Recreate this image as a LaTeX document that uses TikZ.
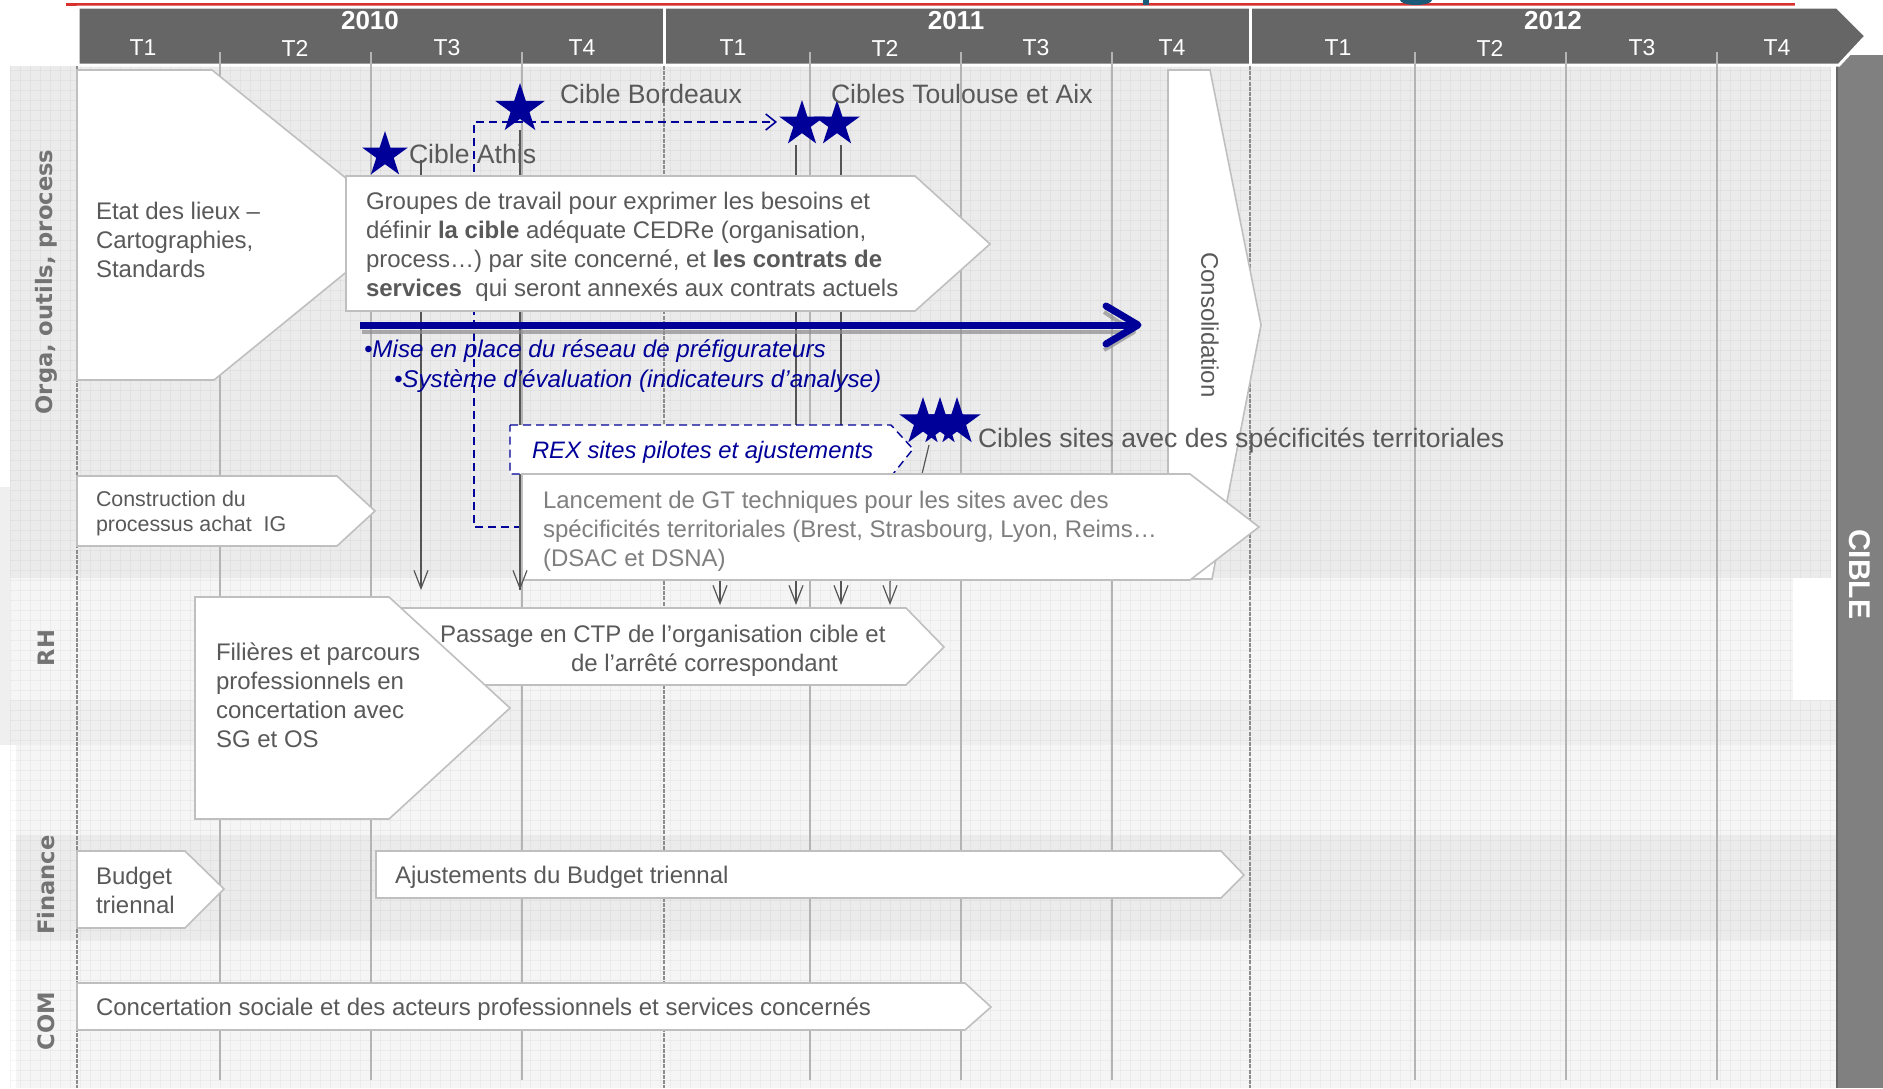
\documentclass[tikz,border=0pt]{standalone}
\usepackage{fontspec}
\setmainfont{Liberation Sans}
\newfontfamily\lanefont{DejaVu Sans}
\usetikzlibrary{shapes.geometric,arrows.meta}

\definecolor{navy}{HTML}{000099}
\definecolor{hdrgray}{HTML}{666666}
\definecolor{ciblegray}{HTML}{808080}
\definecolor{txtgray}{HTML}{595959}
\definecolor{lighttxt}{HTML}{7F7F7F}
\definecolor{lanegray}{HTML}{737373}
\definecolor{boxline}{HTML}{BFBFBF}
\definecolor{qgray}{HTML}{B4B4B4}
\definecolor{ygray}{HTML}{8C8C8C}
\definecolor{dropgray}{HTML}{555555}
\definecolor{bandA}{HTML}{EBEBEB}
\definecolor{bandB}{HTML}{F5F5F5}
\definecolor{bandC}{HTML}{EFEFEF}
\definecolor{titlered}{HTML}{D9312E}
\definecolor{titleteal}{HTML}{1A5A78}

\tikzset{
  box/.style={draw=boxline, line width=0.8pt, fill=white, line join=miter},
  rexbox/.style={draw=navy, line width=0.7pt, dash pattern=on 4pt off 2.5pt, fill=white},
  txt/.style={inner sep=0pt, outer sep=0pt, text=txtgray, align=left,
              font=\fontsize{12pt}{14.5pt}\selectfont},
  smalltxt/.style={txt, font=\fontsize{10.7pt}{12.5pt}\selectfont},
  startxt/.style={inner sep=0pt, outer sep=0pt, text=txtgray,
              font=\fontsize{13.3pt}{16pt}\selectfont},
  bluetxt/.style={inner sep=0pt, outer sep=0pt, text=navy,
              font=\fontsize{12.1pt}{14.5pt}\selectfont\itshape},
  lanetxt/.style={rotate=90, inner sep=0pt, text=lanegray,
              font=\lanefont\bfseries\fontsize{11.3pt}{13pt}\selectfont},
  hdrtxt/.style={inner sep=0pt, text=white, font=\fontsize{11.5pt}{13pt}\selectfont},
  yeartxt/.style={inner sep=0pt, text=white, font=\bfseries\fontsize{13pt}{15pt}\selectfont},
  qline/.style={draw=qgray, line width=0.8pt},
  yline/.style={draw=ygray, line width=0.8pt, dash pattern=on 2pt off 0.6pt},
  gridline/.style={draw=black, draw opacity=0.035, line width=0.3pt},
  drop/.style={draw=dropgray, line width=0.6pt},
  droptip/.style={drop, -{Straight Barb[length=9pt,width=7pt]}},
  bluedash/.style={draw=navy, line width=0.8pt, dash pattern=on 4pt off 2.5pt,
              -{Straight Barb[length=5pt,width=8pt]}},
  navystar/.style={star, star points=5, star point ratio=2.618, fill=navy,
              draw=none, inner sep=0pt, minimum size=24pt},
}

\begin{document}
\begin{tikzpicture}[x=0.5pt,y=-0.5pt]
\useasboundingbox (0,0) rectangle (1883,1088);

% ---------- lane backgrounds ----------
\fill[bandC] (0,487) rectangle (10,745);
\fill[bandA] (10,66) rectangle (1831,578);
\fill[bandB] (10,578) rectangle (1793,700);
\fill[bandC] (10,700) rectangle (1836,745);
\fill[bandB] (16,745) rectangle (1836,835);
\fill[bandA] (16,835) rectangle (1836,940);
\fill[bandB] (16,940) rectangle (1836,1088);

% fine squared paper
\begin{scope}
  \clip (10,66) rectangle (1831,578) (10,578) rectangle (1793,700)
        (10,700) rectangle (1836,1088);
  \foreach \gx in {10,20,...,1830} \draw[gridline] (\gx,66) -- (\gx,1088);
  \foreach \gy in {70,80,...,1080} \draw[gridline] (10,\gy) -- (1836,\gy);
\end{scope}

% ---------- title remnants ----------
\draw[titlered, line width=1.5pt] (66,4) -- (1795,4);
\fill[titleteal] (1143,0) rectangle (1149,5);
\fill[titleteal] (1400,0) arc[start angle=180, end angle=0, x radius=16, y radius=5] -- cycle;

% ---------- target column ----------
\fill[ciblegray] (1836,55) rectangle (1883,1088);
\draw[black!60, line width=1pt] (1837,55) -- (1837,1088);
\node[rotate=-90, inner sep=0pt, text=white, font=\bfseries\fontsize{15pt}{18pt}\selectfont]
  (cible) at (1860,574) {CIBLE};

% ---------- time header ----------
\filldraw[fill=hdrgray, draw=white, line width=1.5pt]
  (78,7) -- (1837,7) -- (1866,36) -- (1839,65) -- (78,65) -- cycle;
\draw[white, line width=1.5pt] (664,7) -- (664,65);
\draw[white, line width=1.5pt] (1250,7) -- (1250,65);

\node[yeartxt] (y2010) at (370,21) {2010};
\node[yeartxt] (y2011) at (956,21) {2011};
\node[yeartxt] (y2012) at (1553,21) {2012};

\node[hdrtxt] (q10a) at (143,48) {T1};
\node[hdrtxt] (q10b) at (295,48) {T2};
\node[hdrtxt] (q10c) at (447,48) {T3};
\node[hdrtxt] (q10d) at (582,48) {T4};
\node[hdrtxt] (q11a) at (733,48) {T1};
\node[hdrtxt] (q11b) at (885,48) {T2};
\node[hdrtxt] (q11c) at (1036,48) {T3};
\node[hdrtxt] (q11d) at (1172,48) {T4};
\node[hdrtxt] (q12a) at (1338,48) {T1};
\node[hdrtxt] (q12b) at (1490,48) {T2};
\node[hdrtxt] (q12c) at (1642,48) {T3};
\node[hdrtxt] (q12d) at (1777,48) {T4};

% quarter and year rules
\foreach \qx in {220,371,522,810,961,1112,1415,1566,1717}
  \draw[qline] (\qx,52) -- (\qx,1080);
\draw[yline] (77,66) -- (77,1088);
\draw[yline] (664,66) -- (664,1088);
\draw[yline] (1250,66) -- (1250,1088);

% ---------- lane titles ----------
\node[lanetxt] (laneOrga) at (46,282) {Orga, outils, process};
\node[lanetxt] (laneRH) at (46,648) {RH};
\node[lanetxt] (laneFin) at (46,885) {Finance};
\node[lanetxt] (laneCom) at (46,1021) {COM};

% ---------- milestone drop lines (behind the boxes) ----------
\coordinate (athisFoot) at (421,160);   \coordinate (athisTip) at (421,590);
\coordinate (bordFoot) at (520,130);    \coordinate (bordTip) at (520,590);
\coordinate (bordLow) at (520,480);
\coordinate (toulFoot) at (796,145);    \coordinate (toulTip) at (796,605);
\coordinate (aixFoot) at (841,145);     \coordinate (aixTip) at (841,605);
\coordinate (rexFoot) at (720,474);     \coordinate (rexTip) at (720,605);
\coordinate (terrFoot) at (929,445);    \coordinate (terrTip) at (890,605);
\draw[droptip] (athisFoot) -- (athisTip);
\draw[drop] (bordFoot) -- (bordTip);
\draw[droptip] (toulFoot) -- (toulTip);
\draw[droptip] (aixFoot) -- (aixTip);
\draw[droptip] (rexFoot) -- (rexTip);
\draw[droptip] (terrFoot) -- (922,474) -- (890,582) -- (terrTip);

% dashed feedback loop from the pilot sites to Toulouse / Aix
\coordinate (loopStart) at (522,527);
\coordinate (loopCorner) at (474,122);
\coordinate (loopEnd) at (777,122);
\draw[bluedash] (loopStart) -| (loopCorner) -- (loopEnd);

% ---------- activity boxes ----------
\draw[box] (77,70) -- (212,70) -- (404,225) -- (214,380) -- (77,380) -- cycle;
\node[txt, anchor=west] (etat) at (96,240)
  {Etat des lieux –\\Cartographies,\\Standards};

\draw[box] (346,176) -- (915,176) -- (990,244) -- (915,311) -- (346,311) -- cycle;
\node[txt, anchor=west] (groupes) at (366,247)
  {Groupes de travail pour exprimer les besoins et\\
   définir \textbf{la cible} adéquate CEDRe (organisation,\\
   process…) par site concerné, et \textbf{les contrats de}\\
   \textbf{services}\ \ qui seront annexés aux contrats actuels};

\draw[box] (1168,70) -- (1210,70) -- (1261,325) -- (1212,579) -- (1168,579) -- cycle;
\node[txt, rotate=-90] (conso) at (1210,325) {Consolidation};

\draw[box] (77,476) -- (337,476) -- (375,511) -- (337,546) -- (77,546) -- cycle;
\node[smalltxt, anchor=west] (achat) at (96,513)
  {Construction du\\processus achat\ \ IG};

\draw[rexbox] (510,425) -- (891,425) -- (913,449) -- (893,474) -- (510,474) -- cycle;
\node[bluetxt, anchor=west, font=\fontsize{11.9pt}{14pt}\selectfont\itshape]
  (rex) at (532,452) {REX sites pilotes et ajustements};

\draw[box] (522,474) -- (1190,474) -- (1259,527) -- (1190,580) -- (522,580) -- cycle;
\node[txt, anchor=west, text=lighttxt] (lancement) at (543,531)
  {Lancement de GT techniques pour les sites avec des\\
   spécificités territoriales (Brest, Strasbourg, Lyon, Reims…\\
   (DSAC et DSNA)};

% Bordeaux drop line: its lower end runs along the left side of the GT box
\draw[droptip] (bordLow) -- (bordTip);

\draw[box] (400,608) -- (906,608) -- (944,647) -- (906,685) -- (400,685) -- cycle;
\node[txt, anchor=west] (ctp) at (440,651)
  {Passage en CTP de l’organisation cible et\\
   \hspace*{65.5pt}de l’arrêté correspondant};

\draw[box] (195,597) -- (389,597) -- (510,708) -- (389,819) -- (195,819) -- cycle;
\node[txt, anchor=west] (filieres) at (216,695)
  {Filières et parcours\\professionnels en\\concertation avec\\SG et OS};

\draw[box] (77,851) -- (185,851) -- (224,889) -- (185,928) -- (77,928) -- cycle;
\node[txt, anchor=west] (budget) at (96,890) {Budget\\triennal};

\draw[box] (376,851) -- (1221,851) -- (1244,875) -- (1221,898) -- (376,898) -- cycle;
\node[txt, anchor=west] (ajust) at (395,877) {Ajustements du Budget triennal};

\draw[box] (77,983) -- (965,983) -- (991,1007) -- (965,1030) -- (77,1030) -- cycle;
\node[txt, anchor=west] (concert) at (96,1009)
  {Concertation sociale et des acteurs professionnels et services concernés};

% ---------- network roll-out arrow ----------
\coordinate (prefStart) at (360,325);
\coordinate (prefEnd) at (1138,325);
\draw[black!45, draw opacity=0.7, line width=2pt] (362,332) -- (1128,332);
\draw[black!45, draw opacity=0.7, line width=2pt, line join=round]
  (1104,312) -- (1134,332) -- (1104,350);
\draw[navy, line width=3.5pt] (prefStart) -- ([xshift=-2pt]prefEnd);
\draw[navy, line width=3.5pt, line join=round, line cap=round]
  ([shift={(-32,-19)}]prefEnd) -- (prefEnd) -- ([shift={(-32,19)}]prefEnd);
\node[bluetxt, anchor=west] (reseau) at (364,351)
  {•Mise en place du réseau de préfigurateurs};
\node[bluetxt, anchor=west] (evaluation) at (394,381)
  {•Système d’évaluation (indicateurs d’analyse)};

% ---------- milestones ----------
\node[navystar] (starAthis) at (385,155) {};
\node[startxt, anchor=west] (lblAthis) at (409,154) {Cible Athis};

\node[navystar, minimum size=26pt] (starBord) at (520,109) {};
\node[startxt, anchor=west] (lblBord) at (560,94) {Cible Bordeaux};

\node[navystar] (starToul) at (802,124) {};
\node[navystar] (starAix) at (837,124) {};
\node[startxt, anchor=west] (lblToul) at (831,94) {Cibles Toulouse et Aix};

\node[navystar, minimum size=25pt] (starT1) at (923,422) {};
\node[navystar, minimum size=25pt] (starT2) at (940,422) {};
\node[navystar, minimum size=25pt] (starT3) at (957,422) {};
\node[startxt, anchor=west] (lblTerr) at (978,440)
  {Cibles sites avec des spécificités territoriales};

\end{tikzpicture}
\end{document}
